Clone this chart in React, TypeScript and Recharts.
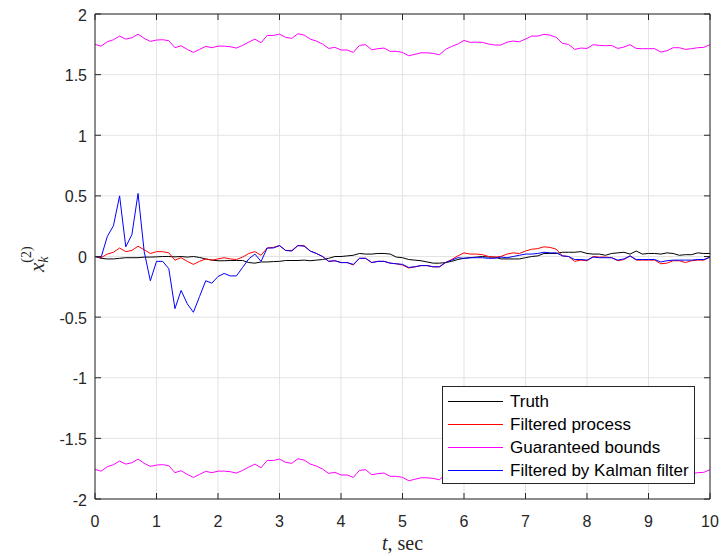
import React from 'react';
import { LineChart, Line, XAxis, YAxis, CartesianGrid, Legend } from 'recharts';

// sample instants, 0..10 s with a 0.1 s step
const times = Array.from({ length: 101 }, (_, i) => i / 10);

const truth = [
  0, -0.015, -0.02, -0.02, -0.015, -0.01, -0.01, -0.01, -0.005, -0.005,
  -0.003, 0, 0, -0.003, 0, -0.005, 0, -0.008, -0.02, -0.03,
  -0.035, -0.035, -0.033, -0.033, -0.033, -0.05, -0.055, -0.045, -0.045, -0.042,
  -0.04, -0.033, -0.033, -0.033, -0.03, -0.035, -0.03, -0.025, -0.015, 0,
  0, 0.005, 0.01, 0.025, 0.02, 0.02, 0.025, 0.025, 0.02, -0.005,
  -0.01, -0.025, -0.03, -0.035, -0.045, -0.055, -0.055, -0.05, -0.04, -0.025,
  -0.015, -0.01, -0.005, 0, -0.005, -0.005, -0.02, -0.02, -0.02, -0.02,
  -0.01, 0, 0.005, 0.025, 0.025, 0.025, 0.035, 0.035, 0.035, 0.04,
  0.025, 0.02, 0.02, 0.01, 0.025, 0.03, 0.035, 0.02, 0.045, 0.02,
  0.025, 0.025, 0.02, 0.03, 0.025, 0.01, 0.015, 0.015, 0.03, 0.025,
  0.025,
];

const filtered = [
  0, -0.01, 0.02, 0.035, 0.07, 0.04, 0.05, 0.085, 0.055, 0.025,
  0.04, 0.04, 0.03, -0.03, -0.01, -0.04, -0.065, -0.04, -0.02, -0.03,
  -0.02, -0.01, -0.02, -0.025, -0.005, 0.025, 0.04, 0.01, 0.07, 0.075,
  0.09, 0.05, 0.05, 0.09, 0.09, 0.045, 0.025, 0, -0.04, -0.035,
  -0.05, -0.05, -0.07, -0.015, -0.015, -0.05, -0.04, -0.04, -0.055, -0.06,
  -0.07, -0.095, -0.085, -0.075, -0.075, -0.085, -0.085, -0.05, -0.025, 0.005,
  0.03, 0.02, 0.02, 0.015, 0, -0.005, 0, 0.02, 0.03, 0.025,
  0.045, 0.06, 0.065, 0.08, 0.075, 0.06, 0.005, 0, -0.04, -0.03,
  -0.035, 0, -0.005, -0.005, -0.01, -0.035, -0.025, 0.005, -0.03, -0.03,
  -0.03, -0.03, -0.06, -0.055, -0.035, -0.035, -0.05, -0.035, -0.03, -0.03,
  -0.005,
];

const upperBound = [
  1.749, 1.735, 1.771, 1.788, 1.818, 1.793, 1.804, 1.834, 1.799, 1.774,
  1.785, 1.788, 1.78, 1.722, 1.738, 1.708, 1.683, 1.708, 1.733, 1.722,
  1.735, 1.735, 1.73, 1.719, 1.741, 1.768, 1.793, 1.763, 1.823, 1.823,
  1.834, 1.807, 1.799, 1.837, 1.826, 1.793, 1.777, 1.752, 1.716, 1.725,
  1.703, 1.703, 1.683, 1.741, 1.747, 1.705, 1.714, 1.719, 1.692, 1.692,
  1.683, 1.656, 1.667, 1.68, 1.68, 1.675, 1.664, 1.708, 1.733, 1.752,
  1.782, 1.766, 1.768, 1.766, 1.752, 1.744, 1.744, 1.768, 1.777, 1.771,
  1.793, 1.818, 1.818, 1.832, 1.826, 1.807, 1.758, 1.749, 1.708, 1.719,
  1.716, 1.747, 1.741, 1.738, 1.741, 1.716, 1.727, 1.747, 1.716, 1.714,
  1.714, 1.714, 1.686, 1.697, 1.722, 1.722, 1.708, 1.714, 1.722, 1.725,
  1.747,
];

const lowerBound = [
  -1.756, -1.77, -1.734, -1.717, -1.687, -1.712, -1.701, -1.671, -1.706, -1.731,
  -1.72, -1.717, -1.725, -1.783, -1.767, -1.797, -1.822, -1.797, -1.772, -1.783,
  -1.77, -1.77, -1.775, -1.786, -1.764, -1.737, -1.712, -1.742, -1.682, -1.682,
  -1.671, -1.698, -1.706, -1.668, -1.679, -1.712, -1.728, -1.753, -1.789, -1.78,
  -1.802, -1.802, -1.822, -1.764, -1.758, -1.8, -1.791, -1.786, -1.813, -1.813,
  -1.822, -1.849, -1.838, -1.825, -1.825, -1.83, -1.841, -1.797, -1.772, -1.753,
  -1.723, -1.739, -1.737, -1.739, -1.753, -1.761, -1.761, -1.737, -1.728, -1.734,
  -1.712, -1.687, -1.687, -1.673, -1.679, -1.698, -1.747, -1.756, -1.797, -1.786,
  -1.789, -1.758, -1.764, -1.767, -1.764, -1.789, -1.778, -1.758, -1.789, -1.791,
  -1.791, -1.791, -1.819, -1.808, -1.783, -1.783, -1.797, -1.791, -1.783, -1.78,
  -1.758,
];

const kalman = [
  0, -0.005, 0.165, 0.254, 0.5, 0.08, 0.18, 0.52, 0.04, -0.2,
  -0.04, -0.04, -0.1, -0.43, -0.28, -0.39, -0.46, -0.33, -0.2, -0.22,
  -0.165, -0.14, -0.16, -0.16, -0.09, -0.02, 0.02, -0.04, 0.07, 0.07,
  0.09, 0.05, 0.045, 0.09, 0.085, 0.045, 0.025, 0, -0.04, -0.035,
  -0.05, -0.05, -0.065, -0.015, -0.015, -0.05, -0.04, -0.04, -0.055, -0.06,
  -0.065, -0.09, -0.085, -0.075, -0.075, -0.085, -0.085, -0.05, -0.03, -0.01,
  -0.015, -0.01, -0.01, -0.01, -0.015, -0.015, -0.005, -0.01, 0, 0.01,
  0.02, 0.02, 0.025, 0.035, 0.03, 0.03, 0.005, 0, -0.025, -0.025,
  -0.03, -0.005, -0.01, -0.01, -0.01, -0.03, -0.02, 0.005, -0.025, -0.025,
  -0.025, -0.025, -0.045, -0.035, -0.03, -0.03, -0.03, -0.03, -0.025, -0.025,
  -0.005,
];

const xTicks = [0, 1, 2, 3, 4, 5, 6, 7, 8, 9, 10];
const yTicks = [-2, -1.5, -1, -0.5, 0, 0.5, 1, 1.5, 2];

// legend rows, top to bottom, with their line colours
const legendOrder = ['Truth', 'Filtered process', 'Guaranteed bounds', 'Filtered by Kalman filter'];
const legendColors: Record<string, string> = {
  'Truth': '#000000',
  'Filtered process': '#ff0000',
  'Guaranteed bounds': '#ff00ff',
  'Filtered by Kalman filter': '#0000ff',
};

const data = times.map((t, i) => ({
  t,
  truth: truth[i],
  filtered: filtered[i],
  upper: upperBound[i],
  lower: lowerBound[i],
  kalman: kalman[i],
}));

const AXIS = '#262626';
const GRID = '#e3e3e3';
const TICK_LEN = 6;
const Y_GAP = 8;
const sans = '"Liberation Sans", Arial, Helvetica, sans-serif';
const serif = '"Liberation Serif", "Times New Roman", serif';

const LeftTick = (props: any) => {
  const { x, y, payload } = props;
  const ax = x + Y_GAP;
  return (
    <g>
      <line x1={ax} x2={ax + TICK_LEN} y1={y} y2={y} stroke={AXIS} />
      <text x={x} y={y + 6.5} textAnchor="end" fontSize={16} fontFamily={sans} fill={AXIS}>
        {payload.value}
      </text>
    </g>
  );
};

const BottomTick = (props: any) => {
  const { x, y, payload } = props;
  return (
    <g>
      <line x1={x} x2={x} y1={y} y2={y - TICK_LEN} stroke={AXIS} />
      <text x={x} y={y + 28} textAnchor="middle" fontSize={16} fontFamily={sans} fill={AXIS}>
        {payload.value}
      </text>
    </g>
  );
};

const TopTick = (props: any) => (
  <line x1={props.x} x2={props.x} y1={props.y} y2={props.y + TICK_LEN} stroke={AXIS} />
);

const RightTick = (props: any) => (
  <line x1={props.x} x2={props.x - TICK_LEN} y1={props.y} y2={props.y} stroke={AXIS} />
);

const YLabel = (props: any) => {
  const { viewBox } = props;
  const cy = viewBox.y + viewBox.height / 2;
  return (
    <text transform={`translate(44, ${cy + 15.5}) rotate(-90)`} fontFamily={serif} fill={AXIS}>
      <tspan fontSize={21} fontStyle="italic">x</tspan>
      <tspan fontSize={14} dy={-13}>(2)</tspan>
      <tspan fontSize={14} fontStyle="italic" dx={-16.3} dy={17}>k</tspan>
    </text>
  );
};

const XLabel = (props: any) => {
  const { viewBox } = props;
  return (
    <text
      x={viewBox.x + viewBox.width / 2}
      y={viewBox.y + 51}
      textAnchor="middle"
      fontFamily={serif}
      fontSize={20}
      fill={AXIS}
    >
      <tspan fontStyle="italic">t</tspan>, sec
    </text>
  );
};

const LegendBox = (props: any) => {
  const items = (props.payload || [])
    .filter((p: any) => p.type !== 'none' && legendOrder.includes(p.value))
    .sort((a: any, b: any) => legendOrder.indexOf(a.value) - legendOrder.indexOf(b.value));
  return (
    <div
      style={{
        width: 253,
        height: 98,
        boxSizing: 'border-box',
        border: `1px solid ${AXIS}`,
        background: '#fff',
        paddingTop: 3,
        paddingLeft: 5,
      }}
    >
      {items.map((item: any) => (
        <div key={item.value} style={{ display: 'flex', alignItems: 'center', height: 23 }}>
          <svg width={56} height={3} style={{ display: 'block' }}>
            <line x1={0} x2={55} y1={1.5} y2={1.5} stroke={legendColors[item.value]} strokeWidth={1} />
          </svg>
          <span
            style={{
              marginLeft: 6,
              fontFamily: sans,
              fontSize: 17,
              color: '#000',
              whiteSpace: 'nowrap',
              lineHeight: '23px',
            }}
          >
            {item.value}
          </span>
        </div>
      ))}
    </div>
  );
};

export default function App() {
  return (
    <div style={{ position: 'absolute', left: 0, top: 0, background: '#fff' }}>
      <LineChart width={723} height={556} data={data} margin={{ top: 0, right: 0, bottom: 0, left: 0 }}>
        <CartesianGrid stroke={GRID} strokeWidth={1} />
        <XAxis
          dataKey="t"
          type="number"
          domain={[0, 10]}
          ticks={xTicks}
          interval={0}
          height={57}
          tickSize={0}
          tickMargin={0}
          tick={<BottomTick />}
          axisLine={{ stroke: AXIS }}
          allowDataOverflow
          label={<XLabel />}
        />
        <XAxis
          xAxisId="top"
          dataKey="t"
          orientation="top"
          type="number"
          domain={[0, 10]}
          ticks={xTicks}
          interval={0}
          height={14}
          tickSize={0}
          tickMargin={0}
          tick={<TopTick />}
          axisLine={{ stroke: AXIS }}
          allowDataOverflow
        />
        <YAxis
          type="number"
          domain={[-2, 2]}
          ticks={yTicks}
          interval={0}
          width={95}
          tickSize={0}
          tickMargin={Y_GAP}
          tick={<LeftTick />}
          axisLine={{ stroke: AXIS }}
          allowDataOverflow
          label={<YLabel />}
        />
        <YAxis
          yAxisId="right"
          orientation="right"
          type="number"
          domain={[-2, 2]}
          ticks={yTicks}
          interval={0}
          width={13}
          tickSize={0}
          tickMargin={0}
          tick={<RightTick />}
          axisLine={{ stroke: AXIS }}
          allowDataOverflow
        />
        <Legend
          layout="vertical"
          align="center"
          verticalAlign="middle"
          content={<LegendBox />}
          wrapperStyle={{ position: 'absolute', left: 442, top: 386, width: 253, height: 98, margin: 0 }}
        />
        <Line dataKey="truth" name="Truth" stroke="#000000" strokeWidth={1} dot={false} isAnimationActive={false} />
        <Line dataKey="filtered" name="Filtered process" stroke="#ff0000" strokeWidth={1} dot={false} isAnimationActive={false} />
        <Line dataKey="upper" name="Guaranteed bounds" stroke="#ff00ff" strokeWidth={1} dot={false} isAnimationActive={false} />
        <Line dataKey="lower" name="Guaranteed bounds (lower)" legendType="none" stroke="#ff00ff" strokeWidth={1} dot={false} isAnimationActive={false} />
        <Line dataKey="kalman" name="Filtered by Kalman filter" stroke="#0000ff" strokeWidth={1} dot={false} isAnimationActive={false} />
      </LineChart>
    </div>
  );
}
